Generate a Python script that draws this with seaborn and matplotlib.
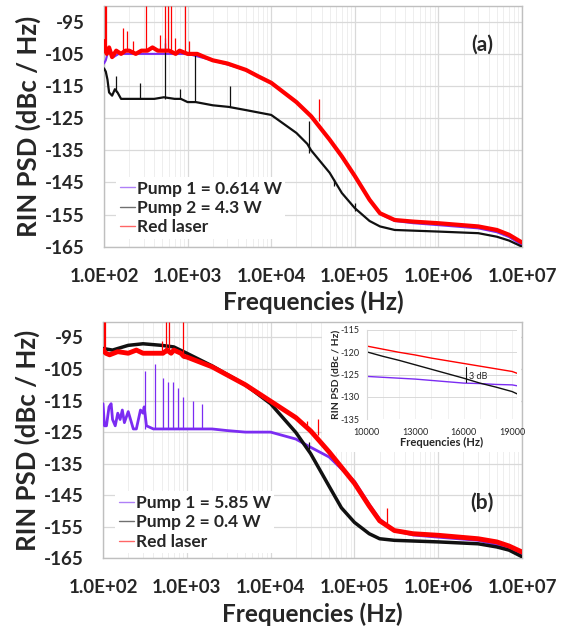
import numpy as np
import matplotlib
matplotlib.use("Agg")
import matplotlib.pyplot as plt
import matplotlib.ticker as mticker
from matplotlib.patches import Rectangle
import seaborn as sns

sns.set_style("white")
plt.rcParams['font.family'] = ['Lato', 'DejaVu Sans']
plt.rcParams['font.weight'] = 'bold'

# ---- panel (a) ----
red_a_f = [100, 104, 108, 115, 125, 140, 160, 180, 200, 240, 280, 330, 380, 440, 490, 530, 600,
           720, 800, 1000, 1100, 1300, 1600, 2000, 3000, 5000, 7000, 1e4, 2e4, 3e4, 5e4, 7e4,
           1e5, 1.5e5, 2e5, 3e5, 5e5, 1e6, 3e6, 5e6, 7e6, 1e7]
red_a_v = [-101, -104, -105, -103, -106, -104, -105, -104, -104, -105, -104, -104, -103, -104,
           -104, -104, -104, -105, -104, -105, -105, -105, -106, -107, -108, -110, -112, -114,
           -120, -124.4, -131.7, -136.9, -143, -150.4, -154.6, -156.7, -157.2, -157.7, -158.7,
           -159.8, -161.3, -163.7]
red_a_spk_f = [102, 106, 170, 190, 225, 320, 470, 540, 580, 640, 700, 940, 1050, 3.7e4]
red_a_spk_lo = [-104, -104, -104, -104, -104, -104, -104, -104, -104, -104, -104, -105, -105, -126]
red_a_spk_hi = [-90, -90, -97, -98, -101, -90, -99, -90, -90, -90, -100, -90, -101, -119]

blue_a_f = [100, 105, 110, 120, 130, 150, 200, 300, 500, 1000, 2000, 5000, 1e4, 2e4,
            3e4, 5e4, 1e5, 1.5e5, 2e5, 3e5, 5e5, 1e6, 3e6, 5e6, 7e6, 1e7]
blue_a_v = [-108, -107, -105, -104, -106, -105, -105, -105, -105, -105, -107, -110,
            -114, -120, -124.5, -131.7, -143, -150.5, -154.8, -157, -157.7, -158.3, -159.3,
            -160.5, -162, -164.5]
blue_a_spk_f = [540]
blue_a_spk_lo = [-105]
blue_a_spk_hi = [-100]

black_a_f = [100, 105, 110, 115, 125, 135, 145, 160, 200, 250, 280, 400, 520, 700, 830, 1000,
             1250, 2000, 3100, 5000, 1e4, 2e4, 2.7e4, 3e4, 5e4, 7e4, 1e5, 1.5e5, 2e5, 3e5,
             1e6, 3e6, 5e6, 7e6, 1e7]
black_a_v = [-109.5, -110.5, -113, -117, -118, -116, -117, -119, -119, -119, -119, -119,
             -118.5, -119, -119, -120, -120, -121, -121.5, -122.5, -124, -129.6, -133, -135,
             -142, -148.3, -153, -157, -158.7, -159.8, -160.3, -160.8, -161.9, -163.1, -165]
black_a_spk_f = [140, 270, 530, 800, 1230, 3200, 2.8e4, 5.6e4, 1e5]
black_a_spk_lo = [-117, -119, -119, -119, -120, -121.5, -136, -146, -154]
black_a_spk_hi = [-112, -114, -101.5, -116, -104.5, -115, -126, -144, -151.5]

# ---- panel (b) ----
red_b_f = [100, 104, 108, 120, 150, 200, 250, 300, 400, 520, 580, 650, 700, 850, 920, 1000,
           2000, 5000, 1e4, 2e4, 3e4, 5e4, 1e5, 1.5e5, 2e5, 3e5, 5e5, 1e6, 3e6, 5e6, 7e6, 1e7]
red_b_v = [-99, -99.5, -100, -100.5, -99.5, -100, -99, -100, -100, -100, -99, -100, -99, -100,
           -101, -101.2, -104.3, -110, -115.2, -120.4, -124.6, -131.3, -141.2, -148.4, -153.1,
           -156.2, -157.2, -157.7, -158.8, -159.8, -161.1, -163]
red_b_spk_f = [102, 106, 500, 560, 620, 900, 2.75e4, 3.7e4, 2.45e5]
red_b_spk_lo = [-100, -100, -100, -100, -100, -100, -124, -126, -155]
red_b_spk_hi = [-90, -90, -96, -90, -90, -90, -121.5, -121, -149]

black_b_f = [100, 130, 200, 300, 500, 700, 1000, 2000, 5000, 1e4, 2e4, 3e4, 5e4, 7e4, 1e5,
             1.5e5, 2e5, 3e5, 1e6, 3e6, 5e6, 7e6, 1e7]
black_b_v = [-98.5, -99, -97.5, -97, -97.5, -98, -100, -104, -110, -116, -125.1, -131.8,
             -142.2, -149, -153.6, -157.2, -158.8, -159.3, -159.8, -160.4, -161.4, -162.4, -164.5]
black_b_spk_f = [2.85e4]
black_b_spk_lo = [-131]
black_b_spk_hi = [-128]

blue_b_f = [100, 104, 110, 118, 125, 130, 140, 150, 160, 170, 180, 200, 230, 250, 280, 300, 310,
            330, 400, 1000, 2000, 3000, 5000, 1e4, 2e4, 3e4, 5e4, 1e5, 1.5e5, 2e5, 3e5,
            5e5, 1e6, 3e6, 5e6, 7e6, 1e7]
blue_b_v = [-116, -123, -123, -117, -116, -121, -123, -119, -121, -118, -122, -118.5, -124,
            -124, -118, -119, -117, -123, -124, -124, -124, -124.5, -125, -125, -127.2, -129.8,
            -132.9, -140.6, -147.9, -152.6, -156.2, -157.6, -158.3, -159.3, -160.7, -161.9, -164]
blue_b_spk_f = [320, 420, 520, 590, 680, 790, 900, 1200, 1500]
blue_b_spk_lo = [-124, -124, -124, -124, -124, -124, -124, -124, -124]
blue_b_spk_hi = [-105.5, -103.5, -108, -109, -109, -111, -114, -115, -116]

# ---- inset of (b), linear frequency ----
ins_f = [10000, 11000, 12000, 13000, 14000, 15000, 16000, 17000, 18000, 19000, 19300]
ins_red = [-118.6, -119.3, -120, -120.6, -121.3, -121.9, -122.5, -123.1, -123.7, -124.3, -124.7]
ins_black = [-119.9, -120.9, -121.8, -122.8, -123.8, -124.8, -125.8, -126.9, -127.8, -128.8, -129.3]
ins_blue = [-125.4, -125.6, -125.8, -126, -126.3, -126.6, -126.9, -127, -127.2, -127.3, -127.5]

xticks = [1e2, 1e3, 1e4, 1e5, 1e6, 1e7]
xtick_labels = ['1.0E+02', '1.0E+03', '1.0E+04', '1.0E+05', '1.0E+06', '1.0E+07']
yticks = [-165, -155, -145, -135, -125, -115, -105, -95]

c_blue = '#7b2cf2'
c_black = '#111111'
c_red = '#ff0000'
grid_c = '#d9d9d9'

fig = plt.figure(figsize=(5.61, 6.32), dpi=100)
ax1 = fig.add_axes([0.1854, 0.6097, 0.7451, 0.3813])
ax2 = fig.add_axes([0.1836, 0.1166, 0.7469, 0.3744])


def style_main(ax, tag, tag_y):
    ax.set_xscale('log')
    ax.set_xlim(1e2, 1e7)
    ax.set_ylim(-165, -90)
    ax.set_xticks(xticks)
    ax.set_xticklabels(xtick_labels)
    ax.xaxis.set_minor_locator(mticker.LogLocator(base=10, subs=np.arange(2, 10)))
    ax.xaxis.set_minor_formatter(mticker.NullFormatter())
    ax.set_yticks(yticks)
    ax.set_yticklabels([str(v) for v in yticks])
    ax.grid(True, which='major', color=grid_c, lw=0.9)
    ax.grid(True, which='minor', axis='x', color='#ebebeb', lw=0.6)
    ax.tick_params(axis='x', which='major', labelsize=13.5, pad=11, length=4, color='#a6a6a6')
    ax.tick_params(axis='x', which='minor', length=3, color='#bfbfbf', direction='inout')
    ax.tick_params(axis='y', labelsize=13.5, pad=10, length=4, color='#a6a6a6')
    for s in ax.spines.values():
        s.set_color('#bfbfbf')
        s.set_linewidth(1.0)
    ax.set_xlabel('Frequencies (Hz)', fontsize=17.5, fontweight='bold')
    ax.set_ylabel('RIN PSD (dBc / Hz)', fontsize=18.5, fontweight='bold')
    ax.yaxis.set_label_coords(-0.15, 0.5)
    ax.xaxis.set_label_coords(0.5, -0.18)
    ax.text(0.904, tag_y, tag, transform=ax.transAxes, fontsize=15, fontweight='bold',
            ha='center', va='center')


def draw(ax, f, v, sf, slo, shi, color, lw, label):
    sns.lineplot(x=f, y=v, ax=ax, color=color, lw=lw, estimator=None, sort=False,
                 label=label, zorder=3)
    ax.vlines(sf, slo, shi, color=color, lw=0.9, zorder=3)


# panel (a)
draw(ax1, blue_a_f, blue_a_v, blue_a_spk_f, blue_a_spk_lo, blue_a_spk_hi, c_blue, 1.5,
     'Pump 1 = 0.614 W')
draw(ax1, black_a_f, black_a_v, black_a_spk_f, black_a_spk_lo, black_a_spk_hi, c_black, 1.6,
     'Pump 2 = 4.3 W')
draw(ax1, red_a_f, red_a_v, red_a_spk_f, red_a_spk_lo, red_a_spk_hi, c_red, 3.0, 'Red laser')
style_main(ax1, '(a)', 0.837)

# panel (b)
draw(ax2, blue_b_f, blue_b_v, blue_b_spk_f, blue_b_spk_lo, blue_b_spk_hi, c_blue, 2.0,
     'Pump 1 = 5.85 W')
draw(ax2, black_b_f, black_b_v, black_b_spk_f, black_b_spk_lo, black_b_spk_hi, c_black, 2.5,
     'Pump 2 = 0.4 W')
draw(ax2, red_b_f, red_b_v, red_b_spk_f, red_b_spk_lo, red_b_spk_hi, c_red, 3.5, 'Red laser')
style_main(ax2, '(b)', 0.234)
ax2.xaxis.set_label_coords(0.5, -0.185)

for ax, y0 in [(ax1, 0.325), (ax2, 0.32)]:
    leg = ax.legend(loc='upper left', bbox_to_anchor=(0.008, y0), fontsize=12.5,
                    handlelength=0.9, handletextpad=0.1, labelspacing=0.2, borderpad=0.2,
                    frameon=True, fancybox=False)
    leg.get_frame().set_facecolor('white')
    leg.get_frame().set_edgecolor('none')
    leg.get_frame().set_alpha(1)
    for h in leg.get_lines():
        h.set_linewidth(1.0)
        h.set_alpha(0.6)

# white area behind the inset
ax2.add_patch(Rectangle((0.574, 0.285), 0.355, 0.205, transform=fig.transFigure,
                        facecolor='white', edgecolor='none', zorder=2.2, clip_on=False))

axi = fig.add_axes([0.6536, 0.3366, 0.268, 0.1413])
sns.lineplot(x=ins_f, y=ins_blue, ax=axi, color=c_blue, lw=1.0, estimator=None, sort=False)
sns.lineplot(x=ins_f, y=ins_black, ax=axi, color=c_black, lw=1.0, estimator=None, sort=False)
sns.lineplot(x=ins_f, y=ins_red, ax=axi, color=c_red, lw=1.0, estimator=None, sort=False)
axi.set_xlim(10000, 19300)
axi.set_ylim(-135, -115)
axi.set_xticks([10000, 13000, 16000, 19000])
axi.set_xticklabels(['10000', '13000', '16000', '19000'])
axi.xaxis.set_minor_locator(mticker.MultipleLocator(1000))
axi.set_yticks([-135, -130, -125, -120, -115])
axi.set_yticklabels(['-135', '-130', '-125', '-120', '-115'])
axi.grid(True, which='major', axis='y', color=grid_c, lw=0.7)
axi.grid(True, which='both', axis='x', color='#ebebeb', lw=0.5)
axi.tick_params(axis='both', which='both', length=0, labelsize=6.5)
axi.tick_params(axis='y', pad=5)
axi.tick_params(axis='x', pad=6)
for lab in axi.get_xticklabels() + axi.get_yticklabels():
    lab.set_fontweight('normal')
for side in ['top', 'right', 'bottom']:
    axi.spines[side].set_visible(False)
axi.spines['left'].set_color('#d9d9d9')
axi.set_xlabel('Frequencies (Hz)', fontsize=8, fontweight='bold')
axi.set_ylabel('RIN PSD (dBc / Hz)', fontsize=7.5, fontweight='bold')
axi.xaxis.set_label_coords(0.5, -0.2)
axi.yaxis.set_label_coords(-0.17, 0.5)
axi.plot([16170, 16170], [-123.2, -126.6], color=c_black, lw=0.8)
axi.text(16340, -125.4, '3 dB', fontsize=6.5, fontweight='normal', va='center', ha='left')

fig.savefig('out.png', dpi=100)
